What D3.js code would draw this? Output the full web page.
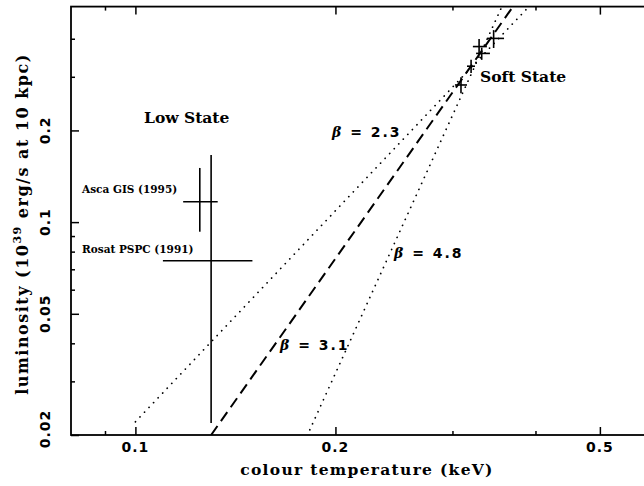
<!DOCTYPE html>
<html>
<head>
<meta charset="utf-8">
<script src="https://cdn.jsdelivr.net/npm/d3@7"></script>
<style>
  body { margin: 0; background: #fff; }
  svg { display: block; }
  text { font-family: "DejaVu Serif", serif; font-weight: bold; fill: #000; }
  .num { font-family: "DejaVu Sans", sans-serif; }
</style>
</head>
<body>
<div id="chart"></div>
<script>
// soft state points (colour temperature keV, luminosity 1e39 erg/s)
var softT   = [0.309, 0.320, 0.329, 0.332, 0.346];
var softTlo = [0.3026, 0.3155, 0.322, 0.3256, 0.338];
var softThi = [0.3155, 0.3244, 0.338, 0.3416, 0.3587];
var softL   = [0.282, 0.325, 0.377, 0.358, 0.401];
var softLlo = [0.265, 0.309, 0.354, 0.341, 0.373];
var softLhi = [0.299, 0.341, 0.399, 0.374, 0.427];

// low state points
var lowNames = ["Asca GIS (1995)", "Rosat PSPC (1991)"];
var lowT   = [0.125, 0.130];
var lowTlo = [0.118, 0.110];
var lowThi = [0.133, 0.150];
var lowL   = [0.1166, 0.0747];
var lowLlo = [0.093, 0.0219];
var lowLhi = [0.1506, 0.166];

var betas     = [2.3, 3.1, 4.8];
var lineT0    = [0.100, 0.130, 0.183];
var lineL0    = [0.0221, 0.020, 0.0208];
var lineT1    = [0.391, 0.370, 0.356];
var lineL1    = [0.51, 0.51, 0.51];

var xMajor = [0.1, 0.2, 0.5];
var xMinor = [0.09, 0.3, 0.4];
var yMajor = [0.02, 0.05, 0.1, 0.2];
var yMinor = [0.03, 0.04, 0.06, 0.07, 0.08, 0.09, 0.3, 0.4];

var width = 644, height = 486;
var plot = {left: 71, right: 652.5, top: 6.6, bottom: 435};

var x = d3.scaleLog().domain([0.08, 0.6]).range([plot.left, plot.right]);
var y = d3.scaleLog().domain([0.02, 0.51]).range([plot.bottom, plot.top]);

var svg = d3.select("#chart").append("svg")
    .attr("width", width)
    .attr("height", height);

svg.append("defs").append("clipPath").attr("id", "clip")
  .append("rect")
    .attr("x", plot.left).attr("y", plot.top)
    .attr("width", plot.right - plot.left)
    .attr("height", plot.bottom - plot.top);

function tickAxis(axis, values, size, tx, ty) {
  var g = svg.append("g")
      .attr("transform", "translate(" + tx + "," + ty + ")")
      .call(axis.tickValues(values).tickSize(size).tickFormat(""));
  g.select(".domain").remove();
  g.selectAll("line").attr("stroke", "#000").attr("stroke-width", 1.5);
  return g;
}

// ticks on all four sides, pointing inwards
tickAxis(d3.axisBottom(x), xMajor, -8, 0, plot.bottom);
tickAxis(d3.axisBottom(x), xMinor, -4, 0, plot.bottom);
tickAxis(d3.axisTop(x), xMajor, -8, 0, plot.top);
tickAxis(d3.axisTop(x), xMinor, -4, 0, plot.top);
tickAxis(d3.axisLeft(y), yMajor, -8, plot.left, 0);
tickAxis(d3.axisLeft(y), yMinor, -4, plot.left, 0);
tickAxis(d3.axisRight(y), yMajor, -8, plot.right, 0);
tickAxis(d3.axisRight(y), yMinor, -4, plot.right, 0);

// frame
svg.append("rect")
    .attr("x", plot.left).attr("y", plot.top)
    .attr("width", plot.right - plot.left)
    .attr("height", plot.bottom - plot.top)
    .attr("fill", "none")
    .attr("stroke", "#000")
    .attr("stroke-width", 1.8);

// tick labels
svg.selectAll(".xlab").data(xMajor).enter().append("text")
    .attr("class", "xlab num")
    .attr("x", function(d) { return x(d); })
    .attr("y", 452)
    .attr("text-anchor", "middle")
    .style("font-size", "14px")
    .style("letter-spacing", "1px")
    .text(function(d) { return d; });

svg.selectAll(".ylab").data(yMajor).enter().append("text")
    .attr("class", "ylab num")
    .attr("transform", function(d) {
      var yy = d === 0.02 ? y(d) - 6 : y(d);
      return "translate(50," + yy + ") rotate(-90)";
    })
    .attr("text-anchor", "middle")
    .style("font-size", "14px")
    .style("letter-spacing", "1px")
    .text(function(d) { return d; });

// axis titles
svg.append("text")
    .attr("x", 367).attr("y", 475)
    .attr("text-anchor", "middle")
    .style("font-size", "15.5px")
    .style("letter-spacing", "1.3px")
    .text("colour temperature (keV)");

var yt = svg.append("text")
    .attr("transform", "translate(28,224) rotate(-90)")
    .attr("text-anchor", "middle")
    .style("font-size", "16px")
    .style("letter-spacing", "1.5px");
yt.append("tspan").text("luminosity (10");
yt.append("tspan").attr("dy", -7).style("font-size", "11px").text("39");
yt.append("tspan").attr("dy", 7).text(" erg/s at 10 kpc)");

// model lines
var lines = svg.append("g").attr("clip-path", "url(#clip)");
betas.forEach(function(b, i) {
  lines.append("line")
      .attr("x1", x(lineT0[i])).attr("y1", y(lineL0[i]))
      .attr("x2", x(lineT1[i])).attr("y2", y(lineL1[i]))
      .attr("stroke", "#000")
      .attr("stroke-width", i === 1 ? 2 : 1.7)
      .attr("stroke-linecap", i === 1 ? "butt" : "round")
      .attr("stroke-dasharray", i === 1 ? "11,6" : "0.1,6.5");
});

// error bar crosses
function crosses(T, Tlo, Thi, L, Llo, Lhi) {
  var g = svg.append("g").attr("stroke", "#000").attr("stroke-width", 1.6);
  T.forEach(function(t, i) {
    g.append("line")
        .attr("x1", x(Tlo[i])).attr("x2", x(Thi[i]))
        .attr("y1", y(L[i])).attr("y2", y(L[i]));
    g.append("line")
        .attr("x1", x(t)).attr("x2", x(t))
        .attr("y1", y(Llo[i])).attr("y2", y(Lhi[i]));
  });
}
crosses(softT, softTlo, softThi, softL, softLlo, softLhi);
crosses(lowT, lowTlo, lowThi, lowL, lowLlo, lowLhi);

// annotations
svg.append("text").attr("x", 144).attr("y", 123)
    .style("font-size", "15.5px").text("Low State");
svg.append("text").attr("x", 480).attr("y", 82)
    .style("font-size", "15.5px").text("Soft State");

var nameY = [192.7, 253];
lowNames.forEach(function(n, i) {
  svg.append("text").attr("x", 82).attr("y", nameY[i])
      .style("font-size", "10.5px").text(n);
});

// label anchors for beta = 2.3, 3.1, 4.8
var betaPos = [[332, 137], [280, 350], [394, 258]];
betas.forEach(function(b, i) {
  var t = svg.append("text")
      .attr("x", betaPos[i][0]).attr("y", betaPos[i][1])
      .style("font-size", "14px")
      .style("letter-spacing", "2px");
  t.append("tspan").style("font-style", "italic").text("\u03b2");
  t.append("tspan").attr("class", "num").text(" = " + b.toFixed(1));
});
</script>
</body>
</html>
